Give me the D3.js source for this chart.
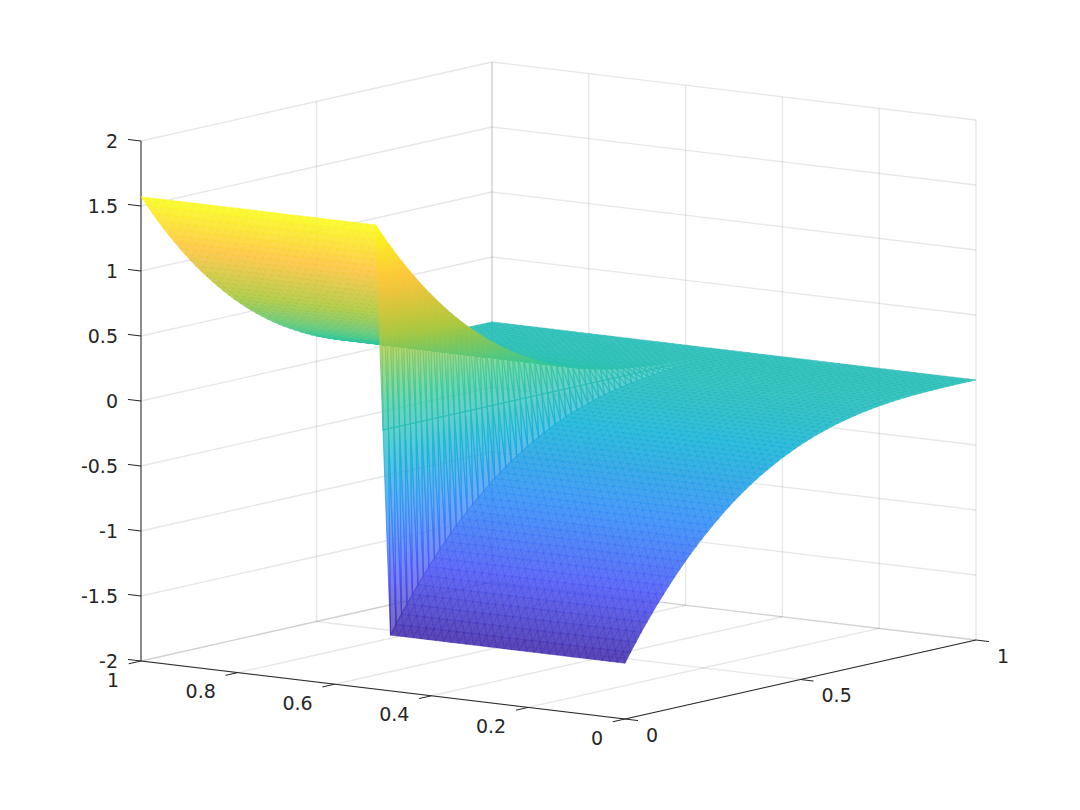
<!DOCTYPE html>
<html>
<head>
<meta charset="utf-8">
<title>surface</title>
<script src="https://cdn.jsdelivr.net/npm/d3@7"></script>
<style>
  html, body { margin: 0; padding: 0; background: #fff; }
  svg { display: block; }
  text { font-family: "DejaVu Sans", sans-serif; font-size: 19px; fill: #262626; }
</style>
</head>
<body>
<div id="d3-container"></div>
<script>
/**
 * DATA
 * */
const uValues = [
  0, 0.0156, 0.0313, 0.0469, 0.0625, 0.0781, 0.0938, 0.1094, 0.125, 0.1406, 0.1563, 0.1719, 0.1875,
  0.2031, 0.2188, 0.2344, 0.25, 0.2656, 0.2813, 0.2969, 0.3125, 0.3281, 0.3438, 0.3594, 0.375,
  0.3906, 0.4063, 0.4219, 0.4375, 0.4531, 0.4688, 0.4844, 0.5, 0.5156, 0.5313, 0.5469, 0.5625,
  0.5781, 0.5938, 0.6094, 0.625, 0.6406, 0.6563, 0.6719, 0.6875, 0.7031, 0.7188, 0.7344, 0.75,
  0.7656, 0.7813, 0.7969, 0.8125, 0.8281, 0.8438, 0.8594, 0.875, 0.8906, 0.9063, 0.9219, 0.9375,
  0.9531, 0.9688, 0.9844, 1
];
const vValues = [
  0, 0.0156, 0.0313, 0.0469, 0.0625, 0.0781, 0.0938, 0.1094, 0.125, 0.1406, 0.1563, 0.1719, 0.1875,
  0.2031, 0.2188, 0.2344, 0.25, 0.2656, 0.2813, 0.2969, 0.3125, 0.3281, 0.3438, 0.3594, 0.375,
  0.3906, 0.4063, 0.4219, 0.4375, 0.4531, 0.4688, 0.4844, 0.5, 0.5156, 0.5313, 0.5469, 0.5625,
  0.5781, 0.5938, 0.6094, 0.625, 0.6406, 0.6563, 0.6719, 0.6875, 0.7031, 0.7188, 0.7344, 0.75,
  0.7656, 0.7813, 0.7969, 0.8125, 0.8281, 0.8438, 0.8594, 0.875, 0.8906, 0.9063, 0.9219, 0.9375,
  0.9531, 0.9688, 0.9844, 1
];
// height along v on the part of the surface with u > 0.5
const zHigh = [
  1.571, 1.498, 1.428, 1.36, 1.294, 1.231, 1.169, 1.11, 1.052, 0.997, 0.944, 0.892, 0.843,
  0.795, 0.749, 0.705, 0.663, 0.622, 0.583, 0.546, 0.51, 0.476, 0.444, 0.413, 0.383,
  0.355, 0.329, 0.304, 0.28, 0.257, 0.236, 0.215, 0.196, 0.178, 0.162, 0.146, 0.132,
  0.118, 0.105, 0.094, 0.083, 0.073, 0.064, 0.055, 0.048, 0.041, 0.035, 0.029, 0.025,
  0.02, 0.016, 0.013, 0.01, 0.008, 0.006, 0.004, 0.003, 0.002, 0.001, 0.001, 0,
  0, 0, 0, 0
];
// height along v on the part with u < 0.5
const zLow = [
  -1.571, -1.498, -1.428, -1.36, -1.294, -1.231, -1.169, -1.11, -1.052, -0.997, -0.944, -0.892, -0.843,
  -0.795, -0.749, -0.705, -0.663, -0.622, -0.583, -0.546, -0.51, -0.476, -0.444, -0.413, -0.383,
  -0.355, -0.329, -0.304, -0.28, -0.257, -0.236, -0.215, -0.196, -0.178, -0.162, -0.146, -0.132,
  -0.118, -0.105, -0.094, -0.083, -0.073, -0.064, -0.055, -0.048, -0.041, -0.035, -0.029, -0.025,
  -0.02, -0.016, -0.013, -0.01, -0.008, -0.006, -0.004, -0.003, -0.002, -0.001, -0.001, 0,
  0, 0, 0, 0
];
const zMiddle = 0; // the row at u = 0.5 sits halfway up the jump

const uTicks = [0, 0.2, 0.4, 0.6, 0.8, 1];
const vTicks = [0, 0.5, 1];
const zTicks = [-2, -1.5, -1, -0.5, 0, 0.5, 1, 1.5, 2];
const parula = ["#3e26a8", "#4852f4", "#2e87f7", "#12b1d6", "#37c897", "#abc739", "#fec338", "#f9fb15"];

/**
 * CONSTANTS
 * */
const width = 1080,
  height = 810,
  origin = { x: 625, y: 719 }; // floor corner u = 0, v = 0

// the view is orthographic so each axis only needs a pair of scales
const uX = d3.scaleLinear().domain([0, 1]).range([0, -484]),
  uY = d3.scaleLinear().domain([0, 1]).range([0, -58]),
  vX = d3.scaleLinear().domain([0, 1]).range([0, 351]),
  vY = d3.scaleLinear().domain([0, 1]).range([0, -79]),
  zY = d3.scaleLinear().domain([-2, 2]).range([0, -520]);

const px = (u, v) => origin.x + uX(u) + vX(v);
const py = (u, v, z) => origin.y + uY(u) + vY(v) + zY(z);

const color = d3.scaleSequential()
  .domain([-1.571, 1.571])
  .interpolator(d3.piecewise(d3.interpolateRgb, parula));

const svg = d3.select("#d3-container")
  .append("svg")
  .attr("width", width)
  .attr("height", height);
const defs = svg.append("defs");

/**
 * GRID
 * */
const gridLines = [];
uTicks.forEach(u => {
  gridLines.push([[u, 0, -2], [u, 1, -2]]); // floor
  gridLines.push([[u, 1, -2], [u, 1, 2]]);  // back wall
});
vTicks.forEach(v => {
  gridLines.push([[0, v, -2], [1, v, -2]]);
  gridLines.push([[1, v, -2], [1, v, 2]]);
});
zTicks.forEach(z => {
  gridLines.push([[1, 0, z], [1, 1, z]]);
  gridLines.push([[1, 1, z], [0, 1, z]]);
});

const drawLines = (sel) => sel
  .attr("x1", d => px(d[0][0], d[0][1]))
  .attr("y1", d => py(d[0][0], d[0][1], d[0][2]))
  .attr("x2", d => px(d[1][0], d[1][1]))
  .attr("y2", d => py(d[1][0], d[1][1], d[1][2]));

svg.append("g")
  .selectAll("line")
  .data(gridLines)
  .join("line")
  .call(drawLines)
  .attr("stroke", "#262626")
  .attr("stroke-opacity", 0.11)
  .attr("stroke-width", 1.4);

/**
 * AXES
 * */
const axisLines = [
  [[1, 0, -2], [1, 0, 2]],
  [[1, 0, -2], [0, 0, -2]],
  [[0, 0, -2], [0, 1, -2]]
];
svg.append("g")
  .selectAll("line")
  .data(axisLines)
  .join("line")
  .call(drawLines)
  .attr("stroke", "#262626")
  .attr("stroke-width", 1);

const tickG = svg.append("g").attr("stroke", "#262626").attr("stroke-width", 1);

// z ticks run out along +u, u ticks along -v, v ticks along -u
tickG.selectAll(".ztick").data(zTicks).join("line")
  .attr("x1", px(1, 0)).attr("x2", px(1, 0) + uX(0.027))
  .attr("y1", d => py(1, 0, d)).attr("y2", d => py(1, 0, d) + uY(0.027));
tickG.selectAll(".utick").data(uTicks).join("line")
  .attr("x1", d => px(d, 0)).attr("x2", d => px(d, 0) - vX(0.035))
  .attr("y1", d => py(d, 0, -2)).attr("y2", d => py(d, 0, -2) - vY(0.035));
tickG.selectAll(".vtick").data(vTicks).join("line")
  .attr("x1", d => px(0, d)).attr("x2", d => px(0, d) - uX(0.027))
  .attr("y1", d => py(0, d, -2)).attr("y2", d => py(0, d, -2) - uY(0.027));

svg.append("g").selectAll("text").data(zTicks).join("text")
  .attr("x", 118)
  .attr("y", d => py(1, 0, d) + 1)
  .attr("text-anchor", "end")
  .attr("dominant-baseline", "middle")
  .text(d => d);

svg.append("g").selectAll("text").data(uTicks).join("text")
  .attr("x", d => px(d, 0) - 22)
  .attr("y", d => py(d, 0, -2) + 20)
  .attr("text-anchor", "end")
  .attr("dominant-baseline", "middle")
  .text(d => d);

svg.append("g").selectAll("text").data(vTicks).join("text")
  .attr("x", d => px(0, d) + 21)
  .attr("y", d => py(0, d, -2) + 17)
  .attr("text-anchor", "start")
  .attr("dominant-baseline", "middle")
  .text(d => d);

/**
 * SURFACE
 * two triangles per cell, painted from the far corner forwards
 * */
const rowHeight = (i, j) => {
  const u = uValues[i];
  if (u === 0.5) return zMiddle;
  return u > 0.5 ? zHigh[j] : zLow[j];
};

const triangles = [];
for (let i = 0; i < uValues.length - 1; i++) {
  for (let j = 0; j < vValues.length - 1; j++) {
    const a = [i, j], b = [i + 1, j], c = [i + 1, j + 1], e = [i, j + 1];
    triangles.push([a, b, c], [a, c, e]);
  }
}
const depth = t => d3.sum(t, n => 58 * uValues[n[0]] + 79 * vValues[n[1]]);
triangles.sort((s, t) => d3.descending(depth(s), depth(t)));

// the slivers up the jump are too long for one flat colour,
// so they get a vertical gradient through the colormap
const isWall = t => t.some(n => uValues[n[0]] === 0.5) && d3.max(t, n => rowHeight(...n)) - d3.min(t, n => rowHeight(...n)) > 0.01;

const paint = (t, i) => {
  if (!isWall(t)) return color(d3.mean(t, n => rowHeight(...n)));
  const zs = t.map(n => rowHeight(...n));
  const top = d3.max(zs), bottom = d3.min(zs);
  const uMean = d3.mean(t, n => uValues[n[0]]), vMean = d3.mean(t, n => vValues[n[1]]);
  const gradient = defs.append("linearGradient")
    .attr("id", "wall" + i)
    .attr("gradientUnits", "userSpaceOnUse")
    .attr("x1", 0).attr("x2", 0)
    .attr("y1", py(uMean, vMean, top))
    .attr("y2", py(uMean, vMean, bottom));
  [0, 0.125, 0.25, 0.375, 0.5, 0.625, 0.75, 0.875, 1].forEach(s => {
    gradient.append("stop")
      .attr("offset", s)
      .attr("stop-color", color(top + (bottom - top) * s));
  });
  return "url(#wall" + i + ")";
};

svg.append("g")
  .selectAll("path")
  .data(triangles)
  .join("path")
  .attr("d", t => "M" + t.map(n =>
    px(uValues[n[0]], vValues[n[1]]).toFixed(2) + "," +
    py(uValues[n[0]], vValues[n[1]], rowHeight(n[0], n[1])).toFixed(2)).join("L") + "Z")
  .each(function (t, i) {
    const p = paint(t, i);
    d3.select(this).attr("fill", p).attr("stroke", p);
  })
  .attr("fill-opacity", t => isWall(t) ? 0.72 : 0.85)
  .attr("stroke-opacity", t => isWall(t) ? 0.7 : 0.8)
  .attr("stroke-width", t => isWall(t) ? 1.1 : 0.6);
</script>
</body>
</html>
